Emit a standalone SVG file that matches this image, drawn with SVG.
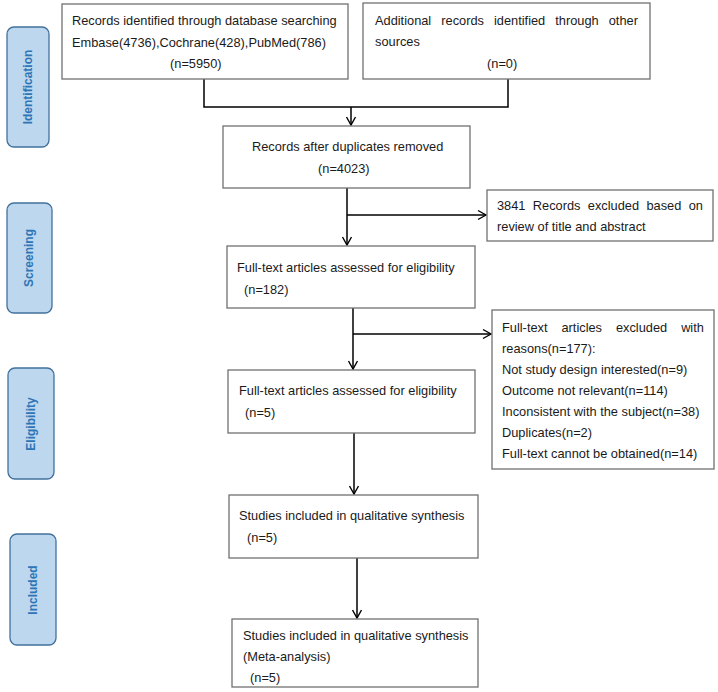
<svg xmlns="http://www.w3.org/2000/svg" width="718" height="692" viewBox="0 0 718 692">
<style>
.box{fill:#fff;stroke:#707070;stroke-width:1.3}
.side{fill:#bdd7ee;stroke:#41719c;stroke-width:1.3}
.t{font-family:"Liberation Sans",Arial,sans-serif;font-size:12.8px;fill:#1a1a1a}
.s{font-family:"Liberation Sans",Arial,sans-serif;font-size:12px;font-weight:bold;fill:#2e75b6;text-anchor:middle}
.c{fill:none;stroke:#000;stroke-width:1.5}
</style>
<defs>
<marker id="ah" markerWidth="12" markerHeight="12" refX="9" refY="6" orient="auto" markerUnits="userSpaceOnUse">
<path d="M1,1.5 L9,6 L1,10.5" fill="none" stroke="#000" stroke-width="1.4"/>
</marker>
</defs>
<g id="side-identification"><rect class="side" x="7" y="27" width="42" height="120" rx="7"/><text class="s" transform="translate(32,87) rotate(-90)">Identification</text></g>
<g id="side-screening"><rect class="side" x="7" y="203" width="45" height="110" rx="7"/><text class="s" transform="translate(33,258) rotate(-90)">Screening</text></g>
<g id="side-eligibility"><rect class="side" x="8" y="368" width="46" height="111" rx="7"/><text class="s" transform="translate(35,424) rotate(-90)">Eligibility</text></g>
<g id="side-included"><rect class="side" x="10" y="534" width="46" height="111" rx="7"/><text class="s" transform="translate(37,590) rotate(-90)">Included</text></g>

<g id="connectors">
<polyline class="c" points="204,79 204,107 508,107 508,79"/>
<line class="c" x1="351" y1="107" x2="351" y2="125" marker-end="url(#ah)"/>
<line class="c" x1="347" y1="188" x2="347" y2="245" marker-end="url(#ah)"/>
<line class="c" x1="347" y1="215" x2="486" y2="215" marker-end="url(#ah)"/>
<line class="c" x1="353" y1="308" x2="353" y2="369" marker-end="url(#ah)"/>
<line class="c" x1="353" y1="334" x2="491" y2="334" marker-end="url(#ah)"/>
<line class="c" x1="354" y1="433" x2="354" y2="494" marker-end="url(#ah)"/>
<line class="c" x1="357" y1="558" x2="357" y2="618" marker-end="url(#ah)"/>
</g>

<g id="n1"><rect class="box" x="62" y="4" width="286" height="75"/>
<text class="t" x="72" y="25">Records identified through database searching</text>
<text class="t" x="72" y="47">Embase(4736),Cochrane(428),PubMed(786)</text>
<text class="t" x="170" y="68">(n=5950)</text></g>

<g id="n2"><rect class="box" x="363" y="3" width="287" height="76"/>
<text class="t" x="375" y="25" word-spacing="6.5">Additional records identified through other</text>
<text class="t" x="375" y="46">sources</text>
<text class="t" x="487" y="68">(n=0)</text></g>

<g id="n3"><rect class="box" x="223" y="126" width="247" height="62"/>
<text class="t" x="252" y="151">Records after duplicates removed</text>
<text class="t" x="318" y="173">(n=4023)</text></g>

<g id="n4"><rect class="box" x="487" y="190" width="226" height="51"/>
<text class="t" x="497" y="210" word-spacing="3.8">3841 Records excluded based on</text>
<text class="t" x="497" y="231">review of title and abstract</text></g>

<g id="n5"><rect class="box" x="227" y="246" width="248" height="62"/>
<text class="t" x="237" y="272">Full-text articles assessed for eligibility</text>
<text class="t" x="244" y="294">(n=182)</text></g>

<g id="n6"><rect class="box" x="492" y="310" width="222" height="159"/>
<text class="t" x="502" y="332" word-spacing="10.4">Full-text articles excluded with</text>
<text class="t" x="502" y="353">reasons(n=177):</text>
<text class="t" x="502" y="374">Not study design interested(n=9)</text>
<text class="t" x="502" y="395">Outcome not relevant(n=114)</text>
<text class="t" x="502" y="416">Inconsistent with the subject(n=38)</text>
<text class="t" x="502" y="437">Duplicates(n=2)</text>
<text class="t" x="502" y="458">Full-text cannot be obtained(n=14)</text></g>

<g id="n7"><rect class="box" x="228" y="370" width="247" height="63"/>
<text class="t" x="239" y="395">Full-text articles assessed for eligibility</text>
<text class="t" x="245" y="417">(n=5)</text></g>

<g id="n8"><rect class="box" x="229" y="495" width="249" height="63"/>
<text class="t" x="239" y="520">Studies included in qualitative synthesis</text>
<text class="t" x="247" y="542">(n=5)</text></g>

<g id="n9"><rect class="box" x="232" y="619" width="246" height="68"/>
<text class="t" x="243" y="640">Studies included in qualitative synthesis</text>
<text class="t" x="243" y="661">(Meta-analysis)</text>
<text class="t" x="250" y="682">(n=5)</text></g>
</svg>
